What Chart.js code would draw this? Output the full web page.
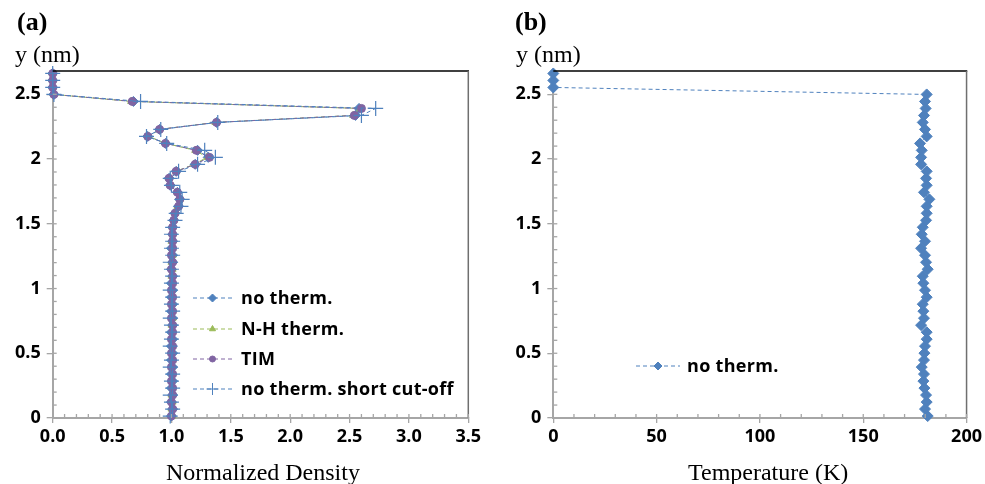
<!DOCTYPE html>
<html>
<head>
<meta charset="utf-8">
<script src="https://cdn.jsdelivr.net/npm/chart.js@4/dist/chart.umd.min.js"></script>
<style>
  html, body { margin:0; padding:0; background:#fff; width:985px; height:484px; overflow:hidden; }
  canvas { position:absolute; top:0; }
  .t { position:absolute; white-space:nowrap; color:#000; line-height:1; }
  .panel { font-family:"Liberation Serif","DejaVu Serif",serif; font-weight:bold; font-size:26px; }
  .ylab, .xlab { font-family:"Liberation Serif","DejaVu Serif",serif; font-size:24px; }
</style>
</head>
<body>
<canvas id="c1" width="490" height="484" style="left:0"></canvas>
<canvas id="c2" width="495" height="484" style="left:490px"></canvas>
<div class="t panel" style="left:17px;top:9px">(a)</div>
<div class="t ylab" style="left:15px;top:42px">y (nm)</div>
<div class="t xlab" style="left:166px;top:460px">Normalized Density</div>
<div class="t panel" style="left:515px;top:9px">(b)</div>
<div class="t ylab" style="left:516px;top:42px">y (nm)</div>
<div class="t xlab" style="left:688px;top:460px">Temperature (K)</div>
<script>
// ---- data ----
const yNm = [0.015,0.069,0.123,0.177,0.231,0.285,0.339,0.393,0.447,0.501,
             0.555,0.609,0.663,0.717,0.771,0.825,0.879,0.933,0.987,1.041,
             1.095,1.149,1.203,1.257,1.311,1.365,1.419,1.473,1.527,1.581,
             1.635,1.689,1.743,1.797,1.851,1.905,1.959,2.013,2.067,2.121,
             2.175,2.229,2.283,2.337,2.391,2.445,2.499,2.553,2.607,2.661];

const densNoTherm = [1.00,1.01,1.00,1.01,1.00,1.01,1.00,1.01,1.00,1.01,
                     1.00,1.01,1.00,1.01,1.01,1.00,1.01,1.00,1.01,1.00,
                     1.01,1.00,1.01,1.01,1.00,1.01,1.01,1.01,1.02,1.03,
                     1.06,1.07,1.05,0.99,0.98,1.04,1.20,1.31,1.22,0.95,
                     0.80,0.90,1.38,2.55,2.58,0.68,0.01,0.00,0.00,0.00];

const densNH = [1.01,1.00,1.01,1.00,1.01,1.00,1.01,1.00,1.01,1.00,
                1.01,1.00,1.01,1.00,1.01,1.01,1.00,1.01,1.00,1.01,
                1.00,1.01,1.00,1.01,1.01,1.00,1.01,1.01,1.02,1.03,
                1.05,1.07,1.05,0.99,0.98,1.04,1.19,1.30,1.20,0.95,
                0.81,0.90,1.37,2.53,2.59,0.66,0.01,0.00,0.00,0.00];

const densTIM = [1.00,1.01,1.00,1.01,1.01,1.00,1.01,1.00,1.01,1.00,
                 1.01,1.00,1.01,1.01,1.00,1.01,1.00,1.01,1.00,1.01,
                 1.01,1.00,1.01,1.00,1.01,1.01,1.01,1.01,1.02,1.03,
                 1.06,1.07,1.05,0.99,0.98,1.04,1.20,1.32,1.21,0.95,
                 0.80,0.90,1.38,2.54,2.60,0.67,0.01,0.00,0.00,0.00];

const densShortCut = [0.99,1.01,1.00,0.99,1.01,1.00,1.01,0.99,1.00,1.01,
                      0.99,1.00,1.01,1.00,0.99,1.01,1.00,1.01,0.99,1.00,
                      1.01,1.00,0.99,1.01,1.00,1.01,1.00,1.01,1.03,1.04,
                      1.08,1.09,1.07,1.00,0.99,1.06,1.22,1.37,1.28,0.96,
                      0.79,0.91,1.39,2.60,2.72,0.74,0.01,0.00,0.00,0.00];

const tempNoTherm = [181.2,179.9,180.7,180.4,179.6,179.1,179.4,178.3,179.4,179.6,
                     179.9,180.7,180.7,178.0,179.4,179.1,178.8,180.7,179.9,179.1,
                     178.8,181.2,180.4,179.9,178.0,179.9,178.3,178.8,180.4,180.7,
                     180.7,182.0,179.4,180.7,180.4,180.7,178.0,178.0,178.3,177.5,
                     180.7,179.9,178.8,179.4,180.2,179.9,180.7,0.0,0.0,0.0];

const densityTickLabels = ['0.0','0.5','1.0','1.5','2.0','2.5','3.0','3.5'];
const tempTickLabels = ['0','50','100','150','200'];
const yTickLabels = ['0','0.5','1','1.5','2','2.5'];
const seriesNames = ['no therm.','N-H therm.','TIM','no therm. short cut-off'];

// ---- styling ----
const BLUE = '#4F81BD', GREEN = '#9BBB59', PURPLE = '#8064A2';
const AXIS_GRAY = '#a6a6a6';
const TICK_FONT = {family:'Open Sans', weight:'bold', size:18};

function pts(xs){ return yNm.map((y,i)=>({x:xs[i], y:y})); }
function near(v, step){ return Math.abs(v/step - Math.round(v/step)) < 1e-6; }

const frame = {
  id:'frame',
  afterDatasetsDraw(chart, args, o){
    const ctx = chart.ctx, a = chart.chartArea;
    ctx.save();
    ctx.strokeStyle = '#000'; ctx.lineWidth = 1.3;
    ctx.beginPath(); ctx.moveTo(a.left, a.top); ctx.lineTo(a.right+0.7, a.top); ctx.stroke();
    ctx.strokeStyle = '#6f6f6f'; ctx.lineWidth = 1.5;
    ctx.beginPath(); ctx.moveTo(a.right, a.top); ctx.lineTo(a.right, a.bottom); ctx.stroke();
    ctx.strokeStyle = AXIS_GRAY; ctx.lineWidth = 1.3;
    const xs = chart.scales.x, ys = chart.scales.y;
    xs.ticks.forEach(t=>{
      if (!near(t.value, o.xStep)) return;
      const px = xs.getPixelForValue(t.value);
      ctx.beginPath(); ctx.moveTo(px, a.bottom); ctx.lineTo(px, a.bottom-4); ctx.stroke();
    });
    ys.ticks.forEach(t=>{
      if (!near(t.value, 0.1)) return;
      const py = ys.getPixelForValue(t.value);
      ctx.beginPath(); ctx.moveTo(a.left, py); ctx.lineTo(a.left+4, py); ctx.stroke();
    });
    ctx.restore();
  }
};

const legendBox = {
  id:'legendBox',
  afterDraw(chart, args, o){
    const ctx = chart.ctx;
    ctx.save();
    o.items.forEach(it=>{
      const ds = chart.data.datasets[it.ds];
      ctx.strokeStyle = ds.borderColor; ctx.lineWidth = 1;
      ctx.setLineDash([4,3]);
      ctx.beginPath(); ctx.moveTo(o.x0, it.y); ctx.lineTo(o.x1, it.y); ctx.stroke();
      ctx.setLineDash([]);
      ctx.fillStyle = ds.pointBackgroundColor; ctx.strokeStyle = ds.pointBorderColor;
      Chart.helpers.drawPoint(ctx, {pointStyle: ds.pointStyle, radius: it.r, rotation:0,
        borderWidth: ds.pointBorderWidth}, (o.x0+o.x1)/2, it.y);
      ctx.fillStyle = '#000';
      ctx.font = 'bold 18px "Open Sans"';
      if ('letterSpacing' in ctx) ctx.letterSpacing = '0.3px';
      ctx.textBaseline = 'middle';
      ctx.fillText(seriesNames[it.ds], o.tx, it.y+1);
      if ('letterSpacing' in ctx) ctx.letterSpacing = '0px';
    });
    ctx.restore();
  }
};

function yScale(width){
  return {
    type:'linear', min:0, max:2.68,
    ticks:{stepSize:0.1, autoSkip:false, padding:6, color:'#000', font:TICK_FONT,
      callback:(v)=> near(v,0.5) ? yTickLabels[Math.round(v/0.5)] : ''},
    grid:{drawOnChartArea:false, drawTicks:true, tickLength:6, lineWidth:1.3,
      tickColor:(c)=> (c.tick && near(c.tick.value,0.5)) ? AXIS_GRAY : 'rgba(0,0,0,0)'},
    border:{color:AXIS_GRAY, width:2},
    afterFit:(s)=>{ s.width = width; }
  };
}
function xScale(max, step, majorStep, labels){
  return {
    type:'linear', min:0, max:max,
    ticks:{stepSize:step, autoSkip:false, maxRotation:0, minRotation:0, padding:3, color:'#000', font:TICK_FONT,
      callback:(v)=> near(v,majorStep) ? labels[Math.round(v/majorStep)] : ''},
    grid:{drawOnChartArea:false, drawTicks:true, tickLength:5, lineWidth:1.3,
      tickColor:(c)=> (c.tick && near(c.tick.value,majorStep)) ? AXIS_GRAY : 'rgba(0,0,0,0)'},
    border:{color:AXIS_GRAY, width:2},
    afterFit:(s)=>{ s.height = 66; }
  };
}

function line(label, data, color, style, r, order, bw){
  return {label, data, showLine:true, borderColor:color, borderWidth:1, borderDash:[4,3],
    pointStyle:style, pointRadius:r, pointHoverRadius:r, pointBackgroundColor:color,
    pointBorderColor:color, pointBorderWidth:bw, order:order, clip:false};
}

Chart.defaults.animation = false;

new Chart(document.getElementById('c1'), {
  type:'scatter',
  data:{datasets:[
    line(seriesNames[0], pts(densNoTherm), BLUE, 'rectRot', 5, 3, 1),
    line(seriesNames[1], pts(densNH), GREEN, 'triangle', 4, 2, 1),
    line(seriesNames[2], pts(densTIM), PURPLE, 'circle', 4, 1, 1),
    line(seriesNames[3], pts(densShortCut), BLUE, 'cross', 7.5, 0, 1.2)
  ]},
  options:{
    responsive:false, devicePixelRatio:1, animation:false,
    layout:{padding:{left:0, top:71, right:21.7, bottom:0}},
    plugins:{legend:{display:false}, tooltip:{enabled:false},
      frame:{xStep:0.1},
      legendBox:{x0:193, x1:232, tx:241, items:[
        {ds:0, y:298, r:4}, {ds:1, y:329, r:3.5}, {ds:2, y:359, r:3}, {ds:3, y:389, r:6}]}},
    scales:{ x: xScale(3.5, 0.1, 0.5, densityTickLabels), y: yScale(52.7) }
  },
  plugins:[frame, legendBox]
});

new Chart(document.getElementById('c2'), {
  type:'scatter',
  data:{datasets:[
    line(seriesNames[0], pts(tempNoTherm), BLUE, 'rectRot', 5.5, 0, 1)
  ]},
  options:{
    responsive:false, devicePixelRatio:1, animation:false,
    layout:{padding:{left:0, top:71, right:16.7, bottom:0}},
    plugins:{legend:{display:false}, tooltip:{enabled:false},
      frame:{xStep:10},
      legendBox:{x0:146, x1:190, tx:197, items:[{ds:0, y:366, r:4}]}},
    scales:{ x: xScale(200, 10, 50, tempTickLabels), y: yScale(63.3) }
  },
  plugins:[frame, legendBox]
});
</script>
</body>
</html>
